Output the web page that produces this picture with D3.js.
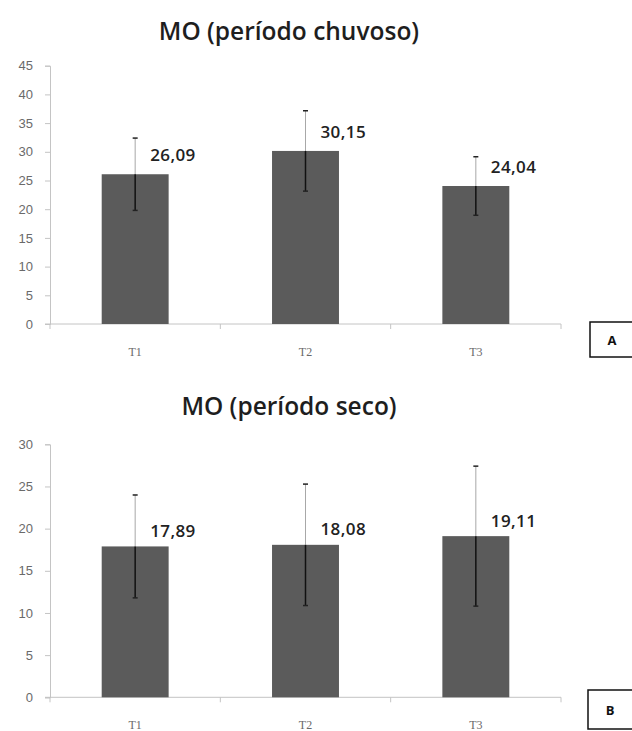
<!DOCTYPE html>
<html>
<head>
<meta charset="utf-8">
<script src="https://cdn.jsdelivr.net/npm/d3@7/dist/d3.min.js"></script>
<style>
  html, body { margin: 0; padding: 0; background: #fff; }
  svg { display: block; }
</style>
</head>
<body>
<svg id="chart" width="632" height="731"></svg>
<script>
// Organic matter (MO) by treatment, rainy and dry seasons
const categories = ["T1", "T2", "T3"];

const rainyTitle = "MO (período chuvoso)";
const rainyMeans = [26.09, 30.15, 24.04];
const rainyErrors = [6.3, 7.0, 5.1];
const rainyTicks = [0, 5, 10, 15, 20, 25, 30, 35, 40, 45];
const rainyTag = "A";

const dryTitle = "MO (período seco)";
const dryMeans = [17.89, 18.08, 19.11];
const dryErrors = [6.1, 7.2, 8.3];
const dryTicks = [0, 5, 10, 15, 20, 25, 30];
const dryTag = "B";

const fmt = v => d3.format(".2f")(v).replace(".", ",");

const svg = d3.select("#chart");
const barColor = "#5b5b5b";
const axisColor = "#c4c4c4";
const tickText = "#6a6a6a";

function drawPanel(opt) {
  const g = svg.append("g");
  const x = d3.scaleBand()
    .domain(opt.categories)
    .range([50, 561])
    .paddingInner(0.607)
    .paddingOuter(0.3035);
  const y = d3.scaleLinear()
    .domain([0, d3.max(opt.ticks)])
    .range([opt.bottom, opt.top]);

  // title
  g.append("text")
    .attr("x", 289)
    .attr("y", opt.titleY)
    .attr("text-anchor", "middle")
    .attr("font-family", "'Open Sans', sans-serif")
    .attr("font-weight", 600)
    .attr("font-size", 24.5)
    .attr("fill", "#1e1e1e")
    .text(opt.title);

  // y axis
  const yAxis = d3.axisLeft(y)
    .tickValues(opt.ticks)
    .tickSize(5)
    .tickPadding(12)
    .tickFormat(d3.format("d"));
  const ya = g.append("g").attr("transform", "translate(50,0)").call(yAxis);
  ya.select(".domain").attr("stroke", axisColor);
  ya.selectAll(".tick line").attr("stroke", axisColor);
  ya.selectAll(".tick text")
    .attr("font-family", "'Liberation Sans', sans-serif")
    .attr("font-size", 13)
    .attr("fill", tickText);

  // x axis line with boundary ticks
  g.append("line")
    .attr("x1", 45).attr("x2", 561)
    .attr("y1", opt.bottom).attr("y2", opt.bottom)
    .attr("stroke", axisColor);
  const bounds = [x.range()[0]].concat(opt.categories.map(c => x(c) + x.bandwidth() + x.step() * x.paddingInner() / 2));
  bounds[bounds.length - 1] = x.range()[1];
  g.selectAll("line.xt").data(bounds).enter().append("line")
    .attr("class", "xt")
    .attr("x1", d => d).attr("x2", d => d)
    .attr("y1", opt.bottom).attr("y2", opt.bottom + 5)
    .attr("stroke", axisColor);
  g.selectAll("text.xl").data(opt.categories).enter().append("text")
    .attr("class", "xl")
    .attr("x", d => x(d) + x.bandwidth() / 2)
    .attr("y", opt.bottom + 32)
    .attr("text-anchor", "middle")
    .attr("font-family", "'Liberation Serif', serif")
    .attr("font-size", 12)
    .attr("fill", tickText)
    .text(d => d);

  const rows = opt.categories.map((c, i) => ({ c, v: opt.means[i], e: opt.errors[i] }));

  // bars
  g.selectAll("rect.bar").data(rows).enter().append("rect")
    .attr("class", "bar")
    .attr("x", d => x(d.c))
    .attr("width", x.bandwidth())
    .attr("y", d => y(d.v))
    .attr("height", d => y(0) - y(d.v))
    .attr("fill", barColor);

  // error bars: light stem above the bar, dark stem inside it
  const cx = d => x(d.c) + x.bandwidth() / 2;
  g.selectAll("line.eu").data(rows).enter().append("line")
    .attr("x1", cx).attr("x2", cx)
    .attr("y1", d => y(d.v + d.e)).attr("y2", d => y(d.v))
    .attr("stroke", "#a8a8a8").attr("stroke-width", 1);
  g.selectAll("line.el").data(rows).enter().append("line")
    .attr("x1", cx).attr("x2", cx)
    .attr("y1", d => y(d.v)).attr("y2", d => y(d.v - d.e))
    .attr("stroke", "#111").attr("stroke-width", 1.5);
  ["top", "bot"].forEach(k => {
    g.selectAll("line.cap" + k).data(rows).enter().append("line")
      .attr("x1", d => cx(d) - 2.5).attr("x2", d => cx(d) + 2.5)
      .attr("y1", d => y(k === "top" ? d.v + d.e : d.v - d.e))
      .attr("y2", d => y(k === "top" ? d.v + d.e : d.v - d.e))
      .attr("stroke", "#222").attr("stroke-width", 1.5);
  });

  // value labels
  g.selectAll("text.val").data(rows).enter().append("text")
    .attr("x", d => cx(d) + 15)
    .attr("y", d => y(d.v) - opt.labelLift)
    .attr("font-family", "'Open Sans', sans-serif")
    .attr("font-weight", 600)
    .attr("font-size", 17)
    .attr("letter-spacing", 0.4)
    .attr("fill", "#222")
    .text(d => fmt(d.v));

  // panel tag box
  g.append("rect")
    .attr("x", opt.tagBox[0]).attr("y", opt.tagBox[1])
    .attr("width", 60).attr("height", opt.tagBox[2])
    .attr("fill", "#fff").attr("stroke", "#111").attr("stroke-width", 1.5);
  g.append("text")
    .attr("x", opt.tagBox[0] + 22)
    .attr("y", opt.tagBox[1] + opt.tagBox[2] / 2 + 5)
    .attr("text-anchor", "middle")
    .attr("font-family", "'Open Sans', sans-serif")
    .attr("font-weight", 700)
    .attr("font-size", 13)
    .attr("fill", "#111")
    .text(opt.tag);
}

drawPanel({
  title: rainyTitle, categories, means: rainyMeans, errors: rainyErrors,
  ticks: rainyTicks, tag: rainyTag,
  top: 65.7, bottom: 324, titleY: 40, labelLift: 13, tagBox: [590, 322, 35]
});

drawPanel({
  title: dryTitle, categories, means: dryMeans, errors: dryErrors,
  ticks: dryTicks, tag: dryTag,
  top: 444.3, bottom: 697.3, titleY: 415, labelLift: 9.5, tagBox: [588, 690, 39]
});
</script>
</body>
</html>
